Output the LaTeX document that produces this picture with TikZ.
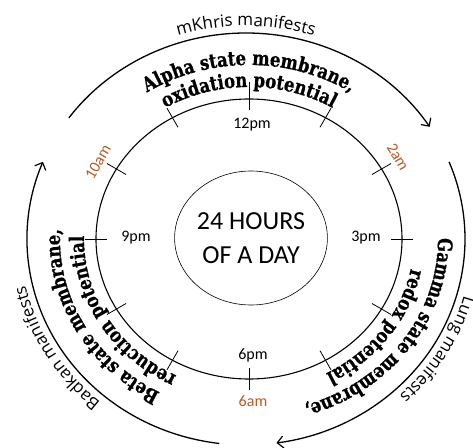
\documentclass[tikz,border=0pt]{standalone}
\usepackage{fontspec}
\setmainfont{Carlito}
\newfontfamily\outerfont{Open Sans}
\newfontfamily\statefont[FakeStretch=0.82,FakeBold=0.8]{DejaVu Serif}
\usetikzlibrary{arrows.meta,decorations.text,shapes.geometric}
\definecolor{hourbrown}{RGB}{184,90,36}
\tikzset{
  outerarc/.style={line width=1.3pt, -{Straight Barb[length=6pt,width=12pt,line width=1.2pt]}},
  hourtick/.style={line width=0.8pt},
  hourlabel/.style={font=\fontsize{16}{16}\selectfont, inner sep=0pt},
  amlabel/.style={hourlabel, text=hourbrown},
  statetext/.style={decorate, decoration={text along path, text align=center,
      text={|\statefont\bfseries\fontsize{20}{20}\selectfont|#1}}},
  manifesttext/.style={decorate, decoration={text along path, text align=center,
      text={|\outerfont\fontsize{17}{17}\selectfont|#1}}},
  corebox/.style={draw, ellipse, line width=0.6pt, minimum width=140pt, minimum height=134pt,
      inner sep=0pt, align=center, font=\fontsize{26}{34}\selectfont},
}
\begin{document}
\begin{tikzpicture}[x=1pt,y=1pt]
\useasboundingbox (-249,-208) rectangle (224,239);
\clip (-249,-208) rectangle (224,239);

% central circle
\node[corebox] (core) at (2,1) {24 HOURS\\OF A DAY};

% clock circle
\draw[line width=1.1pt] (0,0) ellipse [x radius=153, y radius=140];

% ticks
\draw[hourtick] (90:153 and 129) -- (90:153 and 157);
\foreach \a in {60,30,0,-30,-60,-90,-120,-150,-180,-210,-240}
  \draw[hourtick] (\a:142 and 129) -- (\a:164 and 151);

% hour labels
\node[hourlabel] (h12) at (3,114) {12pm};
\node[hourlabel] (h3) at (117,1) {3pm};
\node[hourlabel] (h9) at (-113,1) {9pm};
\node[hourlabel] (h6) at (4,-116) {6pm};
\node[amlabel] (a6) at (4,-162) {6am};
\node[amlabel, rotate=60] (a10) at (-151,77) {10am};
\node[amlabel, rotate=-60] (a2) at (149,82) {2am};

% state texts
\path[statetext={Alpha state membrane,}] (0,0) ++(170:189 and 174) arc[start angle=170, end angle=10, x radius=189, y radius=174];
\path[statetext={oxidation potential}] (0,0) ++(170:165 and 152) arc[start angle=170, end angle=10, x radius=165, y radius=152];
\path[statetext={Gamma state membrane,}] (0,0) ++(45:189 and 174) arc[start angle=45, end angle=-115, x radius=189, y radius=174];
\path[statetext={redox potential}] (0,0) ++(45:165 and 152) arc[start angle=45, end angle=-115, x radius=165, y radius=152];
\path[statetext={Beta state membrane,}] (0,0) ++(-72:189 and 174) arc[start angle=-72, end angle=-232, x radius=189, y radius=174];
\path[statetext={reduction potential}] (0,0) ++(-70:165 and 152) arc[start angle=-70, end angle=-230, x radius=165, y radius=152];

% outer arcs
\draw[outerarc] (-3,0) ++(144:219 and 206) arc[start angle=144, end angle=33, x radius=219, y radius=206];
\draw[outerarc] (-3,0) ++(22:219 and 206) arc[start angle=22, end angle=-82, x radius=219, y radius=206];
\draw[outerarc] (-3,0) ++(-97:219 and 206) arc[start angle=-97, end angle=-202, x radius=219, y radius=206];

% outer labels
\path[manifesttext={mKhris manifests}] (-3,0) ++(170:226 and 213) arc[start angle=170, end angle=10, x radius=226, y radius=213];
\path[manifesttext={Lung manifests}] (-3,0) ++(50:226 and 213) arc[start angle=50, end angle=-110, x radius=226, y radius=213];
\path[manifesttext={Badkan manifests}] (-3,0) ++(-70:226 and 213) arc[start angle=-70, end angle=-230, x radius=226, y radius=213];
\end{tikzpicture}
\end{document}
